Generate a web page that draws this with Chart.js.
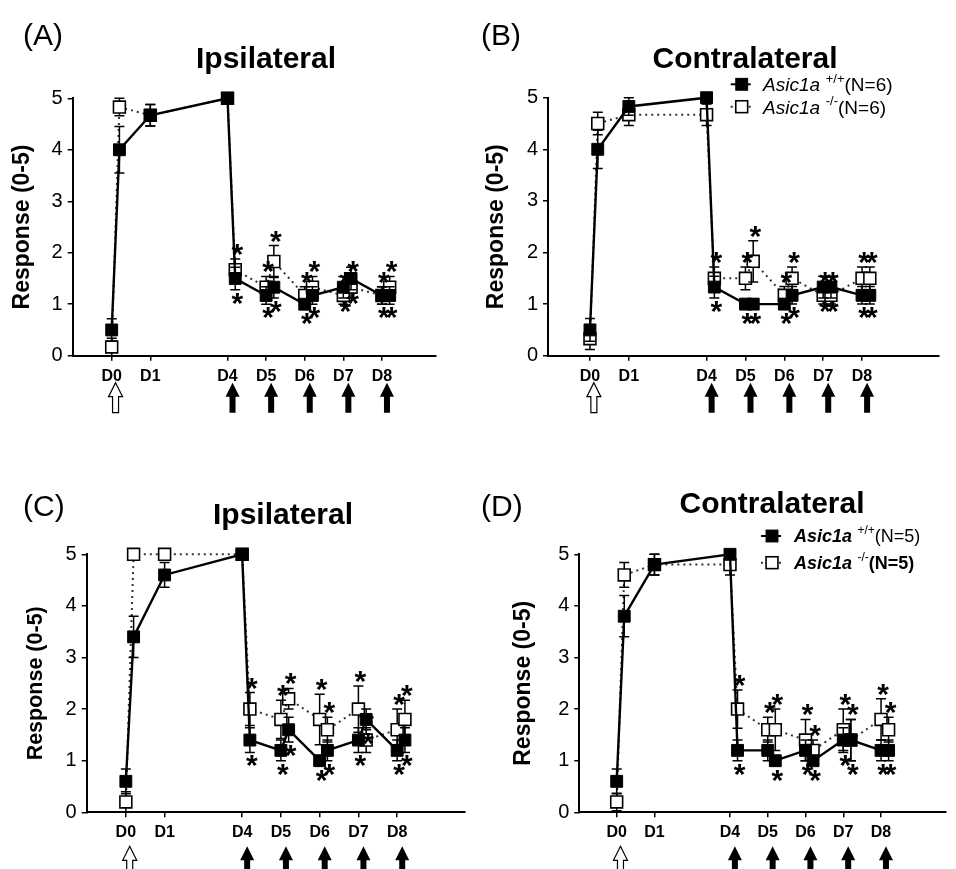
<!DOCTYPE html>
<html><head><meta charset="utf-8">
<script src="https://cdn.jsdelivr.net/npm/chart.js@4.4.1/dist/chart.umd.min.js"></script>
<style>
html,body{margin:0;padding:0;background:#fff;}
#wrap{position:relative;width:956px;height:869px;overflow:hidden;background:#fff;}
canvas{position:absolute;}
</style></head><body><div id="wrap">
<canvas id="cA" width="478" height="434" style="left:0;top:0"></canvas>
<canvas id="cB" width="478" height="434" style="left:478px;top:0"></canvas>
<canvas id="cC" width="478" height="435" style="left:0;top:434px"></canvas>
<canvas id="cD" width="478" height="435" style="left:478px;top:434px"></canvas>
</div>
<script>
// ---------- DATA ----------
// x positions in axis units (D0=0, D1=1, D4=3 ... D8=7; +0.2 = second reading that day)
const xDays = [0, 0.2, 1, 3, 3.2, 4, 4.2, 5, 5.2, 6, 6.2, 7, 7.2];
const xTickValues = [0, 1, 3, 4, 5, 6, 7];
const xTickLabels = ['D0', 'D1', 'D4', 'D5', 'D6', 'D7', 'D8'];
const yTickValues = [0, 1, 2, 3, 4, 5];
const openArrowDays = [0];
const filledArrowDays = [3, 4, 5, 6, 7];
const seriesNames = ['Asic1a', 'Asic1a'];
const seriesSups = ['+/+', '-/-'];
const yAxisTitle = 'Response (0-5)';

// Panel A (Ipsilateral, N=6)
const A_wt    = [0.5, 4.0, 4.67, 5.0, 1.5, 1.17, 1.33, 1.0, 1.17, 1.33, 1.5, 1.17, 1.17];
const A_wtErr = [0.22, 0.45, 0.21, 0, 0.22, 0.17, 0.21, 0, 0.17, 0.21, 0.22, 0.17, 0.17];
const A_ko    = [0.17, 4.83, 4.67, 5.0, 1.67, 1.33, 1.83, 1.17, 1.33, 1.17, 1.33, 1.17, 1.33];
const A_koErr = [0.17, 0.17, 0.21, 0, 0.21, 0.21, 0.31, 0.17, 0.21, 0.17, 0.21, 0.17, 0.21];
const A_sigWt = [0,0,0,0,1,1,1,1,1,1,1,1,1];
const A_sigKo = [0,0,0,0,1,1,1,1,1,1,1,1,1];

// Panel B (Contralateral, N=6)
const B_wt    = [0.5, 4.0, 4.83, 5.0, 1.33, 1.0, 1.0, 1.0, 1.17, 1.33, 1.33, 1.17, 1.17];
const B_wtErr = [0.22, 0.37, 0.17, 0, 0.21, 0, 0, 0, 0.17, 0.21, 0.21, 0.17, 0.17];
const B_ko    = [0.33, 4.5, 4.67, 4.67, 1.5, 1.5, 1.83, 1.17, 1.5, 1.17, 1.17, 1.5, 1.5];
const B_koErr = [0.21, 0.22, 0.21, 0.21, 0.22, 0.22, 0.4, 0.17, 0.22, 0.17, 0.17, 0.22, 0.22];
const B_sigWt = [0,0,0,0,1,1,1,1,1,1,1,1,1];
const B_sigKo = [0,0,0,0,1,1,1,1,1,1,1,1,1];

// Panel C (Ipsilateral, N=5)
const C_wt    = [0.6, 3.4, 4.6, 5.0, 1.4, 1.2, 1.6, 1.0, 1.2, 1.4, 1.8, 1.2, 1.4];
const C_wtErr = [0.24, 0.4, 0.24, 0, 0.24, 0.2, 0.24, 0, 0.2, 0.24, 0.2, 0.2, 0.24];
const C_ko    = [0.2, 5.0, 5.0, 5.0, 2.0, 1.8, 2.2, 1.8, 1.6, 2.0, 1.4, 1.6, 1.8];
const C_koErr = [0.2, 0, 0, 0, 0.32, 0.37, 0.2, 0.49, 0.24, 0.45, 0.24, 0.4, 0.37];
const C_sigWt = [0,0,0,0,1,1,1,1,1,1,1,1,1];
const C_sigKo = [0,0,0,0,1,1,1,1,1,1,1,1,1];

// Panel D (Contralateral, N=5)
const D_wt    = [0.6, 3.8, 4.8, 5.0, 1.2, 1.2, 1.0, 1.2, 1.0, 1.4, 1.4, 1.2, 1.2];
const D_wtErr = [0.24, 0.4, 0.2, 0, 0.2, 0.2, 0, 0.2, 0, 0.24, 0.4, 0.2, 0.2];
const D_ko    = [0.2, 4.6, 4.8, 4.8, 2.0, 1.6, 1.6, 1.4, 1.2, 1.6, 1.4, 1.8, 1.6];
const D_koErr = [0.17, 0.24, 0.2, 0.2, 0.37, 0.24, 0.4, 0.4, 0.2, 0.4, 0.4, 0.4, 0.24];
const D_sigWt = [0,0,0,0,1,0,1,1,1,1,1,1,1];
const D_sigKo = [0,0,0,0,1,1,1,1,1,1,1,1,1];

// ---------- PANEL LAYOUT / STYLE ----------
const FONT = '"Liberation Sans", Arial, sans-serif';
const MARK_R = 8.4;              // Chart.js 'rect' radius -> ~12px square
const HALF = MARK_R * Math.SQRT1_2;
const panels = [
  {id:'cA', label:'(A)', title:'Ipsilateral', wt:A_wt, wtErr:A_wtErr, ko:A_ko, koErr:A_koErr, sigWt:A_sigWt, sigKo:A_sigKo,
   pad:{left:6.7,right:42,top:98.3,bottom:48.3}, yW:66, yTitleSize:23, xMin:-1.01, xMax:8.40,
   titlePos:[266,68], labPos:[23,44.5], arrowTop:27},
  {id:'cB', label:'(B)', title:'Contralateral', wt:B_wt, wtErr:B_wtErr, ko:B_ko, koErr:B_koErr, sigWt:B_sigWt, sigKo:B_sigKo,
   pad:{left:3.2,right:17,top:97.7,bottom:48.3}, yW:66.8, yTitleSize:23, xMin:-1.08, xMax:8.98,
   titlePos:[267,68], labPos:[3,44.5], arrowTop:27,
   legend:{mx:263.7, ys:[84.3,106.7], tx:285, size:19, boldName:false, boldN:[false,false], n:6}},
  {id:'cC', label:'(C)', title:'Ipsilateral', wt:C_wt, wtErr:C_wtErr, ko:C_ko, koErr:C_koErr, sigWt:C_sigWt, sigKo:C_sigKo,
   pad:{left:21.1,right:13,top:120.3,bottom:26.7}, yW:65.6, yTitleSize:21.5, xMin:-1.01, xMax:8.75,
   titlePos:[283,90], labPos:[23,82], arrowTop:34},
  {id:'cD', label:'(D)', title:'Contralateral', wt:D_wt, wtErr:D_wtErr, ko:D_ko, koErr:D_koErr, sigWt:D_sigWt, sigKo:D_sigKo,
   pad:{left:30.2,right:0,top:120.3,bottom:26.7}, yW:71.1, yTitleSize:23, xMin:-0.99, xMax:8.72,
   titlePos:[294,79], labPos:[3,82], arrowTop:34,
   legend:{mx:294, ys:[102,128.7], tx:316, size:18, boldName:true, boldN:[false,true], n:5}}
];

function drawArrow(ctx, cx, top, filled) {
  const H = 30, hh = 14, hw = 7, sw = 3;
  ctx.save();
  ctx.beginPath();
  ctx.moveTo(cx, top);
  ctx.lineTo(cx + hw, top + hh);
  ctx.lineTo(cx + sw, top + hh);
  ctx.lineTo(cx + sw, top + H);
  ctx.lineTo(cx - sw, top + H);
  ctx.lineTo(cx - sw, top + hh);
  ctx.lineTo(cx - hw, top + hh);
  ctx.closePath();
  if (filled) { ctx.fillStyle = '#000'; ctx.fill(); }
  else { ctx.fillStyle = '#fff'; ctx.fill(); ctx.strokeStyle = '#000'; ctx.lineWidth = 1.2; ctx.stroke(); }
  ctx.restore();
}

function drawStar(ctx, x, cy) {
  ctx.save();
  ctx.font = 'bold 30px ' + FONT;
  ctx.fillStyle = '#000';
  ctx.textAlign = 'center';
  ctx.textBaseline = 'alphabetic';
  const m = ctx.measureText('*');
  const asc = m.actualBoundingBoxAscent, desc = m.actualBoundingBoxDescent;
  ctx.fillText('*', x, cy - (desc - asc) / 2);
  ctx.restore();
}

const decoPlugin = {
  id: 'deco',
  afterDatasetsDraw(chart) {
    const ctx = chart.ctx, xs = chart.scales.x, ys = chart.scales.y;
    const cap = 5;
    chart.data.datasets.forEach((ds) => {
      ds.data.forEach((p, i) => {
        const e = ds.err[i];
        const x = xs.getPixelForValue(p.x), y = ys.getPixelForValue(p.y);
        const yt = ys.getPixelForValue(p.y + e), yb = ys.getPixelForValue(p.y - e);
        if (e > 0 && (y - yt) > HALF) {
          ctx.save();
          ctx.strokeStyle = '#000'; ctx.lineWidth = 1.5;
          ctx.beginPath();
          ctx.moveTo(x, yt); ctx.lineTo(x, y - HALF);
          ctx.moveTo(x, y + HALF); ctx.lineTo(x, yb);
          ctx.moveTo(x - cap, yt); ctx.lineTo(x + cap, yt);
          ctx.moveTo(x - cap, yb); ctx.lineTo(x + cap, yb);
          ctx.stroke();
          ctx.restore();
        }
        if (ds.sig[i]) {
          const d = Math.max(y - yt, HALF) + 9;
          drawStar(ctx, x + 2, y + ds.sigDir * d);
        }
      });
    });
  },
  afterDraw(chart, args, opts) {
    const ctx = chart.ctx, xs = chart.scales.x, P = opts.panel;
    const top = chart.chartArea.bottom + P.arrowTop;
    openArrowDays.forEach(v => drawArrow(ctx, xs.getPixelForValue(v + 0.1), top, false));
    filledArrowDays.forEach(v => drawArrow(ctx, xs.getPixelForValue(v + 0.13), top, true));
    ctx.save();
    ctx.fillStyle = '#000';
    ctx.textBaseline = 'alphabetic';
    ctx.textAlign = 'left';
    ctx.font = '30px ' + FONT;
    ctx.fillText(P.label, P.labPos[0], P.labPos[1]);
    ctx.textAlign = 'center';
    ctx.font = 'bold 30px ' + FONT;
    ctx.fillText(P.title, P.titlePos[0], P.titlePos[1]);
    ctx.restore();
    if (P.legend) {
      const L = P.legend;
      chart.data.datasets.forEach((ds, k) => {
        const y = L.ys[k];
        ctx.save();
        ctx.strokeStyle = ds.borderColor; ctx.lineWidth = 2;
        ctx.setLineDash(ds.borderDash || []);
        ctx.beginPath(); ctx.moveTo(L.mx - 11, y); ctx.lineTo(L.mx + 9, y); ctx.stroke();
        ctx.setLineDash([]);
        const s = 2 * HALF;
        ctx.fillStyle = ds.pointBackgroundColor;
        ctx.fillRect(L.mx - s / 2, y - s / 2, s, s);
        ctx.strokeStyle = '#000'; ctx.lineWidth = ds.pointBorderWidth;
        ctx.strokeRect(L.mx - s / 2, y - s / 2, s, s);
        ctx.fillStyle = '#000';
        ctx.textAlign = 'left'; ctx.textBaseline = 'alphabetic';
        const base = y + L.size * 0.36;
        let x = L.tx;
        ctx.font = 'italic ' + (L.boldName ? 'bold ' : '') + L.size + 'px ' + FONT;
        ctx.fillText(seriesNames[k], x, base);
        x += ctx.measureText(seriesNames[k]).width + L.size * 0.3;
        ctx.font = Math.round(L.size * 0.68) + 'px ' + FONT;
        ctx.fillText(seriesSups[k], x, base - L.size * 0.45);
        x += ctx.measureText(seriesSups[k]).width;
        ctx.font = (L.boldN[k] ? 'bold ' : '') + L.size + 'px ' + FONT;
        ctx.fillText('(N=' + L.n + ')', x, base);
        ctx.restore();
      });
    }
  }
};

panels.forEach(P => {
  const data = {
    datasets: [
      { label: seriesNames[0] + ' ' + seriesSups[0],
        data: xDays.map((x, i) => ({x: x, y: P.wt[i]})), err: P.wtErr, sig: P.sigWt, sigDir: 1,
        borderColor: '#000', borderWidth: 2.4, pointStyle: 'rect', pointRadius: MARK_R,
        pointBackgroundColor: '#000', pointBorderColor: '#000', pointBorderWidth: 1,
        clip: false, tension: 0 },
      { label: seriesNames[1] + ' ' + seriesSups[1],
        data: xDays.map((x, i) => ({x: x, y: P.ko[i]})), err: P.koErr, sig: P.sigKo, sigDir: -1,
        borderColor: '#333', borderWidth: 2, borderDash: [2, 4], pointStyle: 'rect', pointRadius: MARK_R,
        pointBackgroundColor: '#fff', pointBorderColor: '#000', pointBorderWidth: 1.6,
        clip: false, tension: 0 }
    ]
  };
  new Chart(document.getElementById(P.id), {
    type: 'line',
    data: data,
    plugins: [decoPlugin],
    options: {
      responsive: false, animation: false, devicePixelRatio: 1,
      layout: { padding: P.pad },
      plugins: { legend: { display: false }, tooltip: { enabled: false }, title: { display: false },
                 deco: { panel: P } },
      scales: {
        x: {
          type: 'linear', min: P.xMin, max: P.xMax,
          afterBuildTicks: s => { s.ticks = xTickValues.map(v => ({value: v})); },
          afterFit: s => { s.height = 30; },
          ticks: { callback: v => xTickLabels[xTickValues.indexOf(v)], autoSkip: false, maxRotation: 0,
                   font: { family: FONT, weight: 'bold', size: 16 }, color: '#000', padding: 6 },
          grid: { drawOnChartArea: false, drawTicks: true, tickLength: 5, color: '#000', lineWidth: 1.5 },
          border: { display: true, color: '#000', width: 2 }
        },
        y: {
          type: 'linear', min: 0, max: 5,
          afterBuildTicks: s => { s.ticks = yTickValues.map(v => ({value: v})); },
          afterFit: s => { s.width = P.yW; },
          ticks: { font: { family: FONT, size: 20 }, color: '#000', padding: 5 },
          grid: { drawOnChartArea: false, drawTicks: true, tickLength: 5, color: '#000', lineWidth: 1.5 },
          border: { display: true, color: '#000', width: 2 },
          title: { display: true, text: yAxisTitle, color: '#000', padding: { top: 2, bottom: 0 },
                   font: { family: FONT, weight: 'bold', size: P.yTitleSize } }
        }
      }
    }
  });
});
</script>
</body></html>
